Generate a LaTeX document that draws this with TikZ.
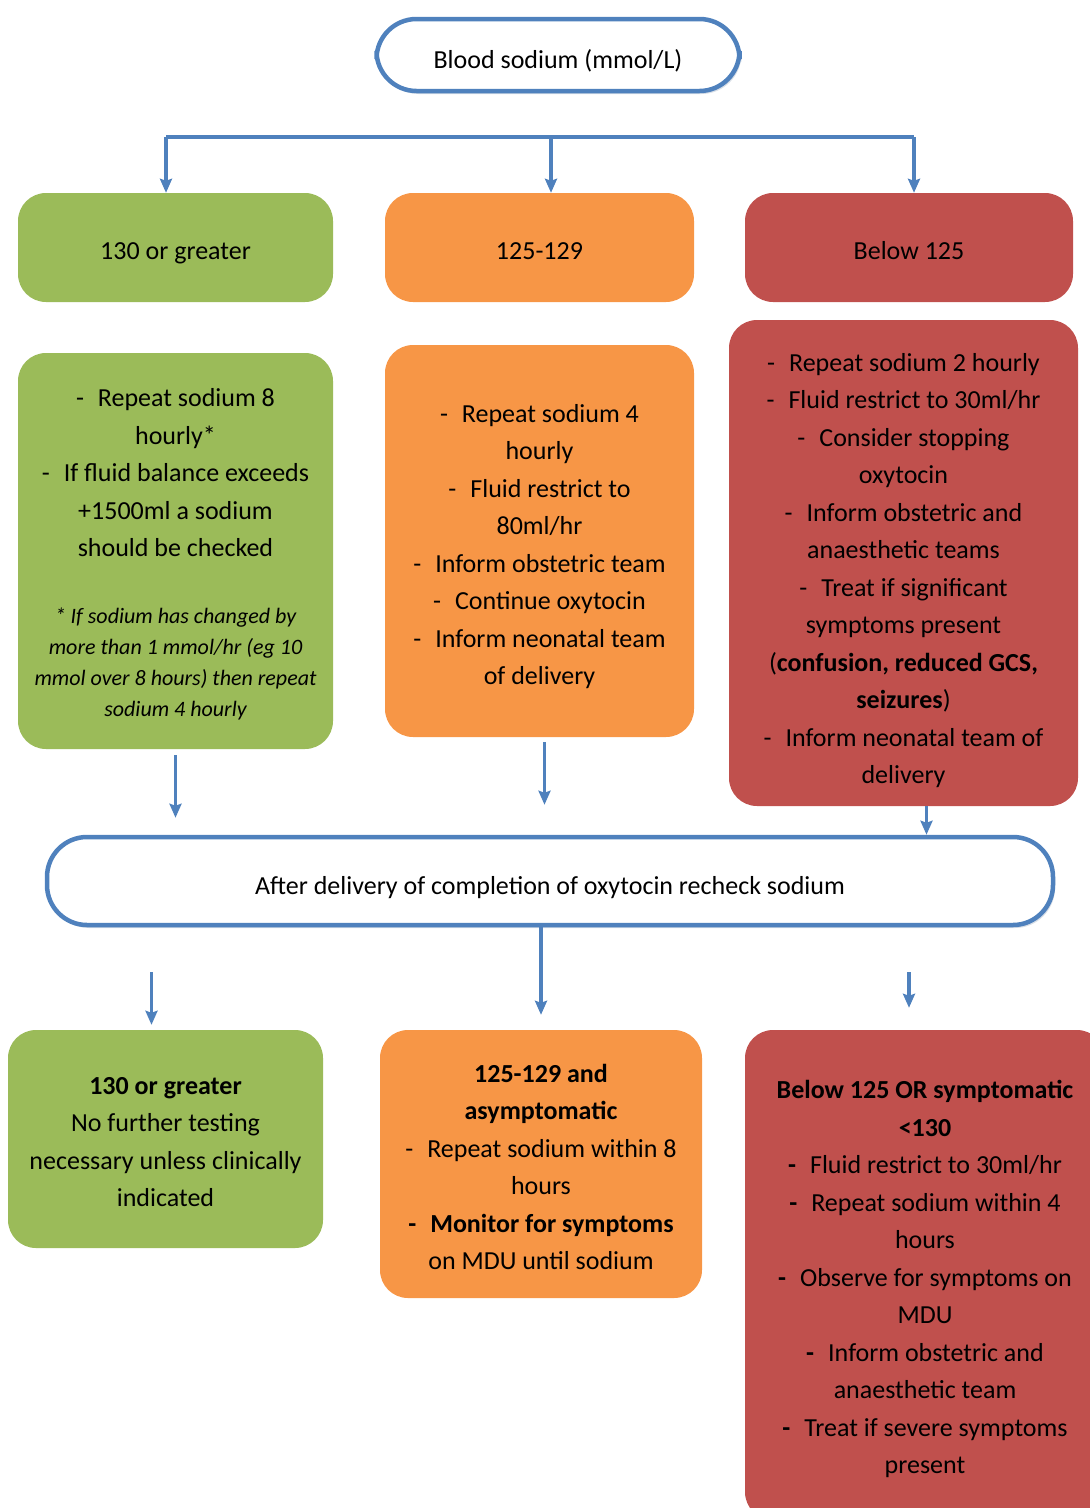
\documentclass[tikz,border=0pt]{standalone}
\usepackage{fontspec}
\setmainfont{Carlito}
\usepackage{tikz}
\usetikzlibrary{
        arrows.meta,
        shadows,
        positioning
    }
\definecolor{lgreen}{HTML}{9BBB59}
\definecolor{lorange}{HTML}{F79646}
\definecolor{lred}{HTML}{C0504D}
\definecolor{lblue}{HTML}{4F81BD}
\newcommand{\boxfont}{\fontsize{26}{37.5}\selectfont}
\newcommand{\notefont}{\fontsize{22}{31}\selectfont\itshape}
\newcommand{\dsh}{-\hspace{14pt}}
\newcommand{\lift}[1]{\rule{0pt}{#1}}
\tikzset{>={Stealth[length=14pt,width=12pt,inset=2pt]},x=1pt,y=-1pt}
\tikzset{
  cbox/.style={rounded corners=28pt,align=flush center,inner sep=0pt,font=\boxfont},
  gbox/.style={cbox,fill=lgreen},
  obox/.style={cbox,fill=lorange},
  rbox/.style={cbox,fill=lred},
  label box/.style={text height=29pt,text depth=5pt},
  pill/.style={draw=lblue,line width=4.5pt,fill=white,rounded corners=40pt,
    align=center,font=\boxfont,text height=31pt,text depth=5pt,
    drop shadow={shadow xshift=2pt,shadow yshift=-3pt,opacity=.25,fill=lblue!50!gray}},
  link/.style={->,draw=lblue,line width=3.6pt},
  bar/.style={draw=lblue,line width=4.5pt}
}

\begin{document}
\begin{tikzpicture}
                \clip (0,0) rectangle (1090,1508);
                \node[pill,minimum width=363pt,minimum height=72pt] (head) at (558,55) {Blood sodium (mmol/L)};
                \coordinate (b1) at (166,137);
                \coordinate (b2) at (551,137);
                \coordinate (b3) at (914,137);
                \node[gbox,label box,minimum width=315pt,minimum height=109pt] (g1) at (175.5,247.5) {130 or greater};
                \node[obox,label box,minimum width=309pt,minimum height=109pt] (o1) at (539.5,247.5) {125-129};
                \node[rbox,label box,minimum width=328pt,minimum height=109pt] (r1) at (909,247.5) {Below 125};
                \node[gbox,text width=305pt,minimum width=315pt,minimum height=396pt] (g2) at (175.5,551) {\lift{25pt}\dsh Repeat sodium 8\\ hourly*\\ \dsh If fluid balance exceeds\\ +1500ml a sodium\\ should be checked\par\vspace{36pt}
                  \notefont * If sodium has changed by\\ more than 1 mmol/hr (eg 10\\ mmol over 8 hours) then repeat\\ sodium 4 hourly\par};
                \node[obox,text width=300pt,minimum width=309pt,minimum height=392pt] (o2) at (539.5,541) {\lift{29pt}\dsh Repeat sodium 4\\ hourly\\ \dsh Fluid restrict to\\ 80ml/hr\\ \dsh Inform obstetric team\\ \dsh Continue oxytocin\\ \dsh Inform neonatal team\\ of delivery};
                \node[rbox,text width=340pt,minimum width=349pt,minimum height=486pt] (r2) at (903.5,563) {\lift{33pt}\dsh Repeat sodium 2 hourly\\ \dsh Fluid restrict to 30ml/hr\\ \dsh Consider stopping\\ oxytocin\\ \dsh Inform obstetric and\\ anaesthetic teams\\ \dsh Treat if significant\\ symptoms present\\ (\textbf{confusion, reduced GCS,}\\ \textbf{seizures})\\ \dsh Inform neonatal team of\\ delivery};
                \node[pill,minimum width=1006pt,minimum height=88pt] (mid) at (550,881) {After delivery of completion of oxytocin recheck sodium};
                \node[gbox,text width=305pt,minimum width=315pt,minimum height=218pt] (g3) at (165.5,1139) {\lift{23pt}\textbf{130 or greater}\\ No further testing\\ necessary unless clinically\\ indicated};
                \node[obox,text width=312pt,minimum width=322pt,minimum height=268pt] (o3) at (541,1164) {\lift{24pt}\textbf{125-129 and}\\ \textbf{asymptomatic}\\ \dsh Repeat sodium within 8\\ hours\\ \textbf{\dsh Monitor for symptoms}\\ on MDU until sodium};
                \node[rbox,text width=350pt,minimum width=360pt,minimum height=490pt] (r3) at (925,1275) {\lift{27pt}\textbf{Below 125 OR symptomatic}\\ \textbf{<130}\\ \textbf{\dsh}Fluid restrict to 30ml/hr\\ \textbf{\dsh}Repeat sodium within 4\\ hours\\ \textbf{\dsh}Observe for symptoms on\\ MDU\\ \textbf{\dsh}Inform obstetric and\\ anaesthetic team\\ \textbf{\dsh}Treat if severe symptoms\\ present};
                \draw[bar] (b1) -- (b3);
                \draw[link] (b1) -- (g1.north -| b1);
                \draw[link] (b2) -- (o1.north -| b2);
                \draw[link] (b3) -- (r1.north -| b3);
                \draw[link,shorten <=6pt,shorten >=17pt] (g2.south) -- (mid.north -| g2.south);
                \draw[link,shorten <=5pt,shorten >=30pt] ([xshift=5pt]o2.south) -- ([xshift=5pt]o2.south |- mid.north);
                \draw[link] ([xshift=23pt]r2.south) -- ([xshift=23pt]r2.south |- mid.north);
                \draw[link,shorten <=45pt,shorten >=5pt] ([xshift=-14pt]g3.north |- mid.south) -- ([xshift=-14pt]g3.north);
                \draw[link,shorten >=15pt] (o3.north |- mid.south) -- (o3.north);
                \draw[link,shorten <=45pt,shorten >=22pt] ([xshift=-16pt]r3.north |- mid.south) -- ([xshift=-16pt]r3.north);
\end{tikzpicture}
\end{document}
